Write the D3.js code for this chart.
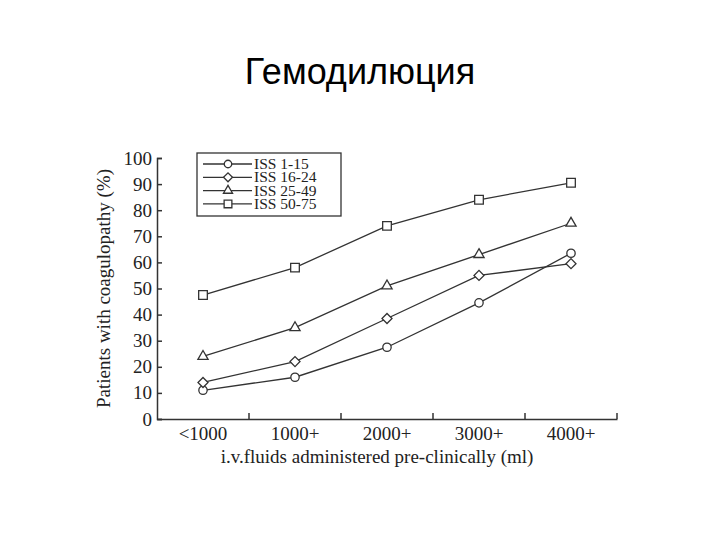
<!DOCTYPE html>
<html><head><meta charset="utf-8">
<script src="https://cdn.jsdelivr.net/npm/d3@7"></script>
<style>body{margin:0;background:#fff}</style></head>
<body><svg id="c" width="720" height="540"></svg>
<script>
const categories = ["<1000","1000+","2000+","3000+","4000+"];
const seriesNames = ["ISS 1-15","ISS 16-24","ISS 25-49","ISS 50-75"];
const iss1_15 = [11,16,27.5,44.5,63.5];
const iss16_24 = [14,22,38.5,55,59.5];
const iss25_49 = [24,35,51,63,75];
const iss50_75 = [47.5,58,74,84,90.5];
const yTicks = [0,10,20,30,40,50,60,70,80,90,100];
const symbols = [d3.symbolCircle, d3.symbolSquare, d3.symbolTriangle, d3.symbolSquare];
const rot = [0,45,0,0];
const sizes = [55,50,45,75];
const data = [iss1_15, iss16_24, iss25_49, iss50_75];

const svg = d3.select("#c");
svg.append("text").attr("x",360).attr("y",84).attr("text-anchor","middle")
  .attr("font-family","Liberation Sans, Arial").attr("font-size",36).text("Гемодилюция");

const L=157,R=617,T=158,B=419;
const x = d3.scaleBand().domain(categories).range([L,R]);
const y = d3.scaleLinear().domain([0,100]).range([B,T]);
const ff = "Liberation Serif, Times New Roman";
const col = "#333";

const ya = svg.append("g").attr("transform",`translate(${L},0)`)
  .call(d3.axisLeft(y).tickValues(yTicks).tickSize(-5).tickPadding(5));
ya.select(".domain").attr("stroke",col).attr("stroke-width",1.5);
ya.selectAll("line").attr("stroke",col).attr("stroke-width",1.5);
ya.selectAll("text").attr("font-family",ff).attr("font-size",19).attr("fill","#222");

const xa = svg.append("g").attr("transform",`translate(0,${B})`)
  .call(d3.axisBottom(x).tickSize(0).tickPadding(8).tickSizeOuter(0));
xa.select(".domain").attr("stroke",col).attr("stroke-width",1.5);
xa.selectAll("text").attr("font-family",ff).attr("font-size",19).attr("fill","#222");
svg.append("g").selectAll("line").data(categories).join("line")
  .attr("x1",d=>x(d)+x.bandwidth()).attr("x2",d=>x(d)+x.bandwidth())
  .attr("y1",B).attr("y2",B-6).attr("stroke",col).attr("stroke-width",1.5);

svg.append("text").attr("transform",`translate(110,${(T+B)/2}) rotate(-90)`)
  .attr("text-anchor","middle").attr("font-family",ff).attr("font-size",19).attr("fill","#222")
  .text("Patients with coagulopathy (%)");
svg.append("text").attr("x",(L+R)/2-10).attr("y",463).attr("text-anchor","middle")
  .attr("font-family",ff).attr("font-size",19).attr("fill","#222")
  .text("i.v.fluids administered pre-clinically (ml)");

const line = d3.line().x((d,i)=>x(categories[i])+x.bandwidth()/2).y(d=>y(d));
data.forEach((s,k)=>{
  svg.append("path").attr("d",line(s)).attr("fill","none").attr("stroke",col).attr("stroke-width",1.3);
  svg.append("g").selectAll("path").data(s).join("path")
    .attr("transform",(d,i)=>`translate(${x(categories[i])+x.bandwidth()/2},${y(d)}) rotate(${rot[k]})`)
    .attr("d",d3.symbol().type(symbols[k]).size(sizes[k]))
    .attr("fill","#fff").attr("stroke",col).attr("stroke-width",1.3);
});

const lg = svg.append("g");
lg.append("rect").attr("x",197).attr("y",153).attr("width",144).attr("height",63)
  .attr("fill","#fff").attr("stroke",col).attr("stroke-width",1.3);
seriesNames.forEach((n,k)=>{
  const yy = 164+k*13.3;
  lg.append("line").attr("x1",203).attr("x2",252).attr("y1",yy).attr("y2",yy).attr("stroke",col).attr("stroke-width",1.3);
  lg.append("path").attr("transform",`translate(228,${yy}) rotate(${rot[k]})`)
    .attr("d",d3.symbol().type(symbols[k]).size(sizes[k]*0.8)).attr("fill","#fff").attr("stroke",col).attr("stroke-width",1.3);
  lg.append("text").attr("x",254).attr("y",yy+5).attr("font-family",ff).attr("font-size",15.5)
    .attr("fill","#222").text(n);
});
</script></body></html>
